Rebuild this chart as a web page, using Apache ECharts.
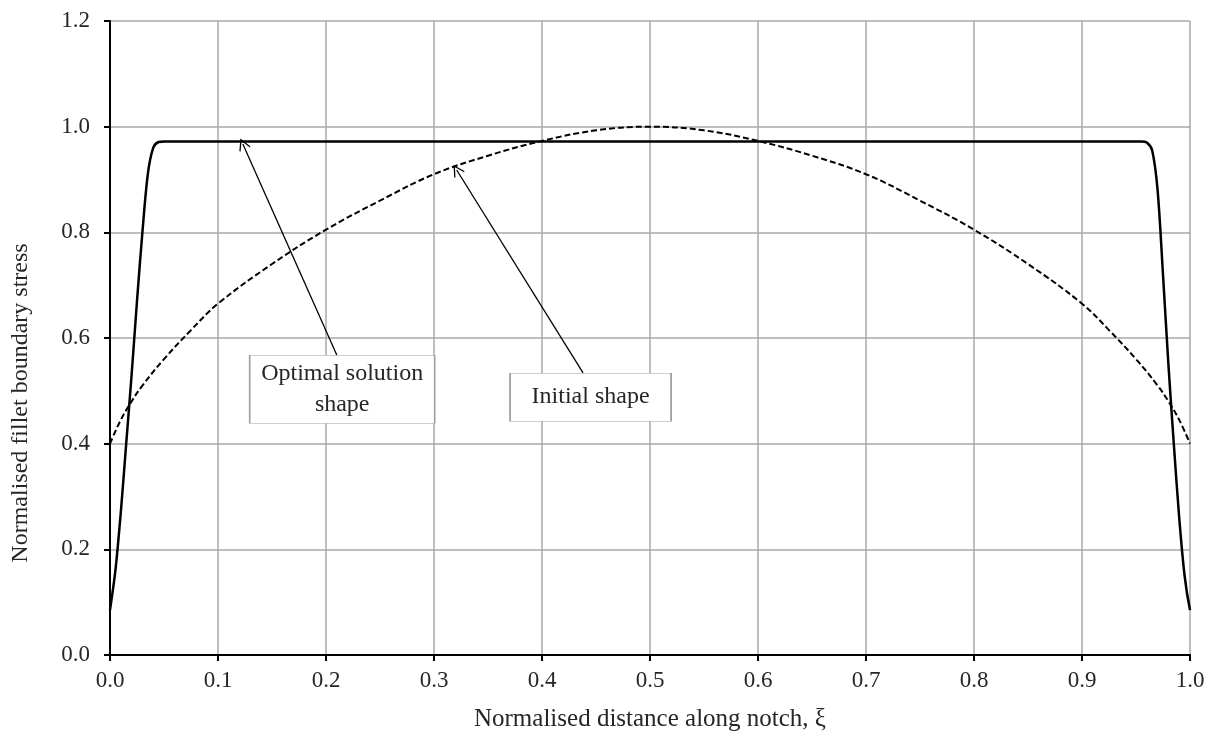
<!DOCTYPE html>
<html>
<head>
<meta charset="utf-8">
<script src="https://cdn.jsdelivr.net/npm/echarts@6/dist/echarts.min.js"></script>
<style>
  html, body { margin: 0; padding: 0; background: #fff; }
  #chart { width: 1217px; height: 744px; }
</style>
</head>
<body>
<div id="chart"></div>
<script>
// initial shape (dashed)
const xInitial = [0, 0.01, 0.02, 0.03, 0.05, 0.075, 0.1, 0.15, 0.2, 0.25, 0.3, 0.35, 0.4, 0.45, 0.5,
  0.55, 0.6, 0.65, 0.7, 0.75, 0.8, 0.85, 0.9, 0.925, 0.95, 0.97, 0.98, 0.99, 1.0];
const yInitial = [0.40, 0.445, 0.48, 0.51, 0.56, 0.615, 0.665, 0.74, 0.805, 0.86, 0.91, 0.945, 0.973, 0.993, 1.0,
  0.993, 0.973, 0.945, 0.91, 0.86, 0.805, 0.74, 0.665, 0.615, 0.56, 0.51, 0.48, 0.445, 0.40];

// optimal solution shape (solid)
const xOptimal = [0, 0.005, 0.01, 0.015, 0.02, 0.025, 0.03, 0.035, 0.04, 0.045, 0.05, 0.2, 0.5, 0.8,
  0.955, 0.96, 0.965, 0.97, 0.975, 0.98, 0.985, 0.99, 0.995, 1.0];
const yOptimal = [0.085, 0.16, 0.27, 0.40, 0.53, 0.67, 0.80, 0.91, 0.96, 0.971, 0.972, 0.972, 0.972, 0.972,
  0.972, 0.970, 0.955, 0.88, 0.72, 0.55, 0.40, 0.26, 0.15, 0.085];

// annotation boxes: centre of box, and arrow from box top to tip
const labelOptimal = 'Optimal solution\nshape';
const boxOptimal = [0.215, 0.503];
const arrowOptimal = [[0.210, 0.568], [0.123, 0.967]];
const labelInitial = 'Initial shape';
const boxInitial = [0.445, 0.488];
const arrowInitial = [[0.438, 0.534], [0.321, 0.918]];

const FONT = 'Liberation Serif';
const TEXT = '#262626';
const chart = echarts.init(document.getElementById('chart'));

const zip = (xs, ys) => xs.map((x, i) => [x, ys[i]]);
const openArrow = 'path://M0,0 L7,10 L6,11 L0,2.5 L-6,11 L-7,10 Z';

const axisCommon = {
  type: 'value',
  nameLocation: 'middle',
  axisLine: { lineStyle: { color: '#000', width: 2 } },
  axisTick: { length: 6, lineStyle: { color: '#000', width: 2 } },
  splitLine: { lineStyle: { color: '#a8a8a8', width: 1.5 } }
};

const option = {
  animation: false,
  grid: { left: 110, right: 27, top: 21, bottom: 89 },
  xAxis: Object.assign({}, axisCommon, {
    min: 0, max: 1, interval: 0.1,
    name: 'Normalised distance along notch, ξ',
    nameGap: 52,
    nameTextStyle: { fontFamily: FONT, fontSize: 25, color: TEXT },
    axisLabel: {
      margin: 14, fontFamily: FONT, fontSize: 23, color: TEXT,
      formatter: v => v.toFixed(1)
    }
  }),
  yAxis: Object.assign({}, axisCommon, {
    min: 0, max: 1.2, interval: 0.2,
    name: 'Normalised fillet boundary stress',
    nameGap: 77,
    // title sits lower than the middle of the plot in the reference
    nameTextStyle: { fontFamily: FONT, fontSize: 24, color: TEXT, padding: [0, 130, 0, 0] },
    axisLabel: {
      margin: 20, fontFamily: FONT, fontSize: 23, color: TEXT,
      formatter: v => v.toFixed(1)
    }
  }),
  series: [
    {
      name: 'Initial shape',
      type: 'line',
      data: zip(xInitial, yInitial),
      smooth: 0.4,
      showSymbol: false,
      lineStyle: { color: '#000', width: 2, type: [6, 3] },
      z: 3
    },
    {
      name: 'Optimal solution shape',
      type: 'line',
      data: zip(xOptimal, yOptimal),
      smooth: 0.3,
      showSymbol: false,
      lineStyle: { color: '#000', width: 2.5 },
      z: 4,
      markLine: {
        silent: true,
        symbol: ['none', openArrow],
        symbolSize: [12, 12],
        lineStyle: { color: '#000', width: 1.3, type: 'solid' },
        label: { show: false },
        data: [
          [{ coord: arrowOptimal[0] }, { coord: arrowOptimal[1] }],
          [{ coord: arrowInitial[0] }, { coord: arrowInitial[1] }]
        ]
      },
      markPoint: {
        silent: true,
        symbol: 'rect',
        itemStyle: { color: '#fff', borderColor: '#a0a0a0', borderWidth: 1 },
        label: {
          show: true, position: 'inside',
          fontFamily: FONT, fontSize: 24, lineHeight: 31, color: TEXT
        },
        data: [
          { coord: boxOptimal, symbolSize: [185, 68], value: labelOptimal,
            label: { formatter: labelOptimal } },
          { coord: boxInitial, symbolSize: [161, 48], value: labelInitial,
            label: { formatter: labelInitial } }
        ]
      }
    }
  ]
};
chart.setOption(option);
</script>
</body>
</html>
